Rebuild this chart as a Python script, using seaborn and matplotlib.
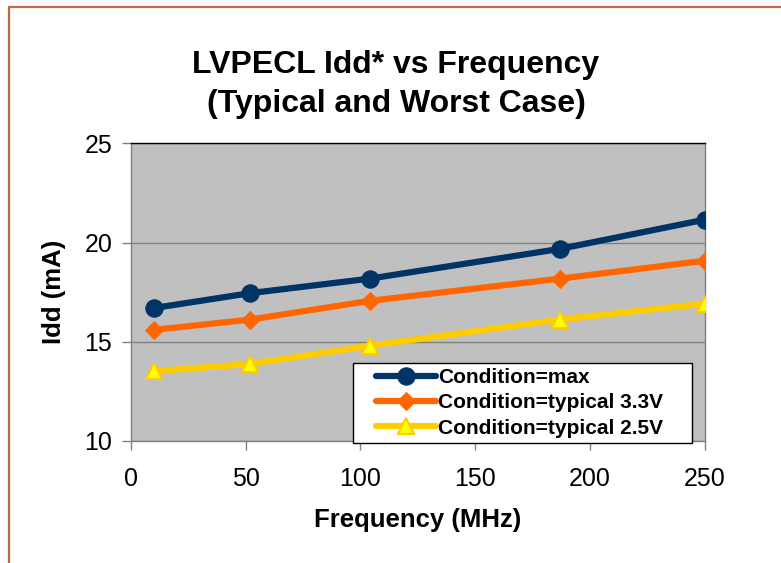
import matplotlib
matplotlib.use("Agg")
import matplotlib.pyplot as plt
import matplotlib.patches as mpatches
import seaborn as sns
import pandas as pd

# ---- data ----
freq = [10, 52, 104, 187, 250]
idd_max = [16.7, 17.45, 18.18, 19.68, 21.15]
idd_typ33 = [15.6, 16.12, 17.06, 18.18, 19.08]
idd_typ25 = [13.52, 13.88, 14.8, 16.12, 16.92]
series_names = ["Condition=max", "Condition=typical 3.3V", "Condition=typical 2.5V"]
x_ticks = [0, 50, 100, 150, 200, 250]
y_ticks = [10, 15, 20, 25]

sns.set_style("white")
plt.rcParams['font.family'] = ['Liberation Sans', 'DejaVu Sans']
plt.rcParams['text.color'] = 'black'
plt.rcParams['axes.labelcolor'] = 'black'

W, H = 781, 563
fig = plt.figure(figsize=(W / 100, H / 100), dpi=100)
fig.patch.set_facecolor("white")

left, right, top, bottom = 131, 704.5, 143.3, 441
ax = fig.add_axes([left / W, 1 - bottom / H, (right - left) / W, (bottom - top) / H])
ax.set_facecolor("#C0C0C0")

df = pd.DataFrame({
    "freq": freq * 3,
    "idd": idd_max + idd_typ33 + idd_typ25,
    "cond": [series_names[0]] * 5 + [series_names[1]] * 5 + [series_names[2]] * 5,
})

styles = {
    series_names[0]: dict(color="#003366", marker="o", markersize=12.5,
                          markerfacecolor="#003366", markeredgecolor="#003366"),
    series_names[1]: dict(color="#FF6600", marker="D", markersize=8.8,
                          markerfacecolor="#FF6600", markeredgecolor="#FF6600"),
    series_names[2]: dict(color="#FFCC00", marker="^", markersize=12,
                          markerfacecolor="#FFFF00", markeredgecolor="#FFCC00",
                          markeredgewidth=1.5),
}
for name in series_names:
    sub = df[df["cond"] == name]
    sns.lineplot(data=sub, x="freq", y="idd", ax=ax, linewidth=4.5,
                 label=name, zorder=3, solid_capstyle="round", **styles[name])

handles, labels = ax.get_legend_handles_labels()
if ax.get_legend() is not None:
    ax.get_legend().remove()

ax.set_xlim(0, 250)
ax.set_ylim(10, 25)
ax.set_xticks(x_ticks)
ax.set_yticks(y_ticks)
ax.set_xticklabels([str(v) for v in x_ticks])
ax.set_yticklabels([str(v) for v in y_ticks])

ax.grid(axis="y", color="#808080", linewidth=1.0)
ax.grid(axis="x", visible=False)
ax.set_axisbelow(True)

for s in ["left", "bottom", "right"]:
    ax.spines[s].set_color("#808080")
    ax.spines[s].set_linewidth(1.0)
ax.spines["top"].set_color("black")
ax.spines["top"].set_linewidth(1.0)

ax.tick_params(axis="both", which="major", direction="out", length=6.5, width=1,
               color="#808080", labelsize=18, labelcolor="black")
ax.tick_params(axis="x", pad=12, bottom=True)
ax.tick_params(axis="y", pad=7, left=True)

ax.set_xlabel("Frequency (MHz)", fontsize=18.5, fontweight="bold", color="black")
ax.set_ylabel("Idd (mA)", fontsize=18.5, fontweight="bold", color="black")
ax.xaxis.set_label_coords(((418 - left) / (right - left)), -(508 - bottom) / (bottom - top))
ax.yaxis.set_label_coords(-(left - 66) / (right - left), (bottom - 292) / (bottom - top))

fig.text(396 / W, 1 - 73 / H, "LVPECL Idd* vs Frequency", ha="center", va="baseline",
         fontsize=23, fontweight="bold", color="black")
fig.text(396 / W, 1 - 112 / H, "(Typical and Worst Case)", ha="center", va="baseline",
         fontsize=23, fontweight="bold", color="black")

# legend box
lx0, ly0, lx1, ly1 = 353, 363, 692, 443
box = mpatches.Rectangle((lx0 / W, 1 - ly1 / H), (lx1 - lx0) / W, (ly1 - ly0) / H,
                         transform=fig.transFigure, facecolor="white",
                         edgecolor="black", linewidth=1.0, zorder=4)
fig.patches.append(box)

leg = fig.legend(handles, labels,
                 loc="upper left", bbox_to_anchor=(376 / W, 1 - 368 / H),
                 frameon=False, prop={"weight": "bold", "size": 15},
                 handlelength=2.9, handletextpad=0.08, labelspacing=0.3,
                 borderpad=0, borderaxespad=0)
for t in leg.get_texts():
    t.set_color("black")
leg.set_zorder(6)

# outer chart border (left and top visible)
border = mpatches.Rectangle((8.5 / W, -0.1), 2.0, 1 - 7.5 / H + 0.1,
                            transform=fig.transFigure, fill=False,
                            edgecolor="#BD6A3E", linewidth=1.6, clip_on=False)
fig.patches.append(border)

fig.savefig("out.png", dpi=100)
